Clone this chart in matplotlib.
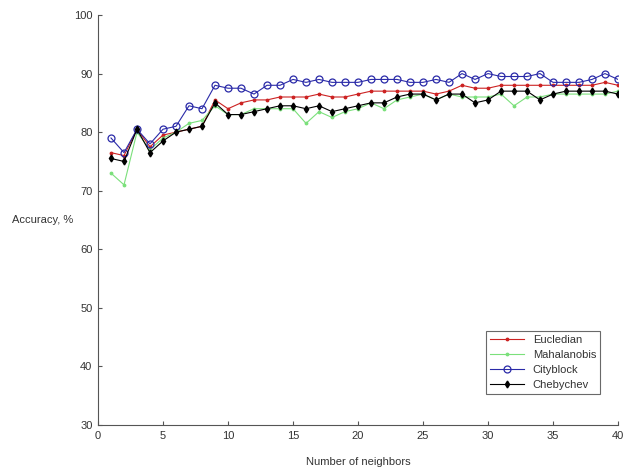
import numpy as np
import matplotlib
matplotlib.use('Agg')
import matplotlib.pyplot as plt

plt.rcParams['font.family'] = ['Liberation Sans', 'DejaVu Sans']

neighbors = list(range(1, 41))

eucledian = [76.5, 76, 80.5, 77.5, 79.5, 80, 80.5, 81, 85.5, 84,
             85, 85.5, 85.5, 86, 86, 86, 86.5, 86, 86, 86.5,
             87, 87, 87, 87, 87, 86.5, 87, 88, 87.5, 87.5,
             88, 88, 88, 88, 88, 88, 88, 88, 88.5, 88]
mahalanobis = [73, 71, 80, 77, 79, 80, 81.5, 82, 84.5, 83,
               83, 84, 84, 84, 84, 81.5, 83.5, 82.5, 83.5, 84,
               85, 84, 85.5, 86, 86.5, 85.5, 86.5, 86, 86, 86,
               86.5, 84.5, 86, 86, 86.5, 86.5, 86.5, 86.5, 86.5, 87]
cityblock = [79, 76.5, 80.5, 78, 80.5, 81, 84.5, 84, 88, 87.5,
             87.5, 86.5, 88, 88, 89, 88.5, 89, 88.5, 88.5, 88.5,
             89, 89, 89, 88.5, 88.5, 89, 88.5, 90, 89, 90,
             89.5, 89.5, 89.5, 90, 88.5, 88.5, 88.5, 89, 90, 89]
chebychev = [75.5, 75, 80.5, 76.5, 78.5, 80, 80.5, 81, 85, 83,
             83, 83.5, 84, 84.5, 84.5, 84, 84.5, 83.5, 84, 84.5,
             85, 85, 86, 86.5, 86.5, 85.5, 86.5, 86.5, 85, 85.5,
             87, 87, 87, 85.5, 86.5, 87, 87, 87, 87, 86.5]

fig = plt.figure(figsize=(6.36, 4.73), dpi=100)
ax = fig.add_axes([98 / 636, 1 - 425 / 473, 520 / 636, 410 / 473])

ax.plot(neighbors, eucledian, '-', color='#cc2222', marker='.', markersize=3.5, lw=0.8, label='Eucledian')
ax.plot(neighbors, mahalanobis, '-', color='#7be07b', marker='.', markersize=3.5, lw=0.8, label='Mahalanobis')
ax.plot(neighbors, cityblock, '-', color='#2a2aa8', marker='o', markersize=5, mfc='none', mew=0.9, lw=0.8,
        label='Cityblock')
ax.plot(neighbors, chebychev, '-', color='black', marker='d', markersize=3.5, lw=0.8, label='Chebychev')

ax.set_xlim(0, 40)
ax.set_ylim(30, 100)
ax.set_xticks(range(0, 41, 5))
ax.set_yticks(range(30, 101, 10))
for s in ['top', 'right']:
    ax.spines[s].set_visible(False)
for s in ['left', 'bottom']:
    ax.spines[s].set_color('#555555')
ax.tick_params(direction='in', length=3, color='#555555', labelsize=8, labelcolor='#333333', pad=4)

fig.text(98 / 636 + 260 / 636, 1 - 462 / 473, 'Number of neighbors', ha='center', va='center',
         fontsize=8, color='#333333')
fig.text(12 / 636, 1 - 220 / 473, 'Accuracy, %', ha='left', va='center', fontsize=8, color='#333333')

leg = ax.legend(loc='lower right', bbox_to_anchor=(606 / 636, 1 - 400 / 473), bbox_transform=fig.transFigure,
                fontsize=8, frameon=True, fancybox=False, edgecolor='#444444', handlelength=3,
                labelspacing=0.45, borderpad=0.4)
leg.get_frame().set_linewidth(0.8)
for t in leg.get_texts():
    t.set_color('#333333')

fig.savefig('out.png', dpi=100)
